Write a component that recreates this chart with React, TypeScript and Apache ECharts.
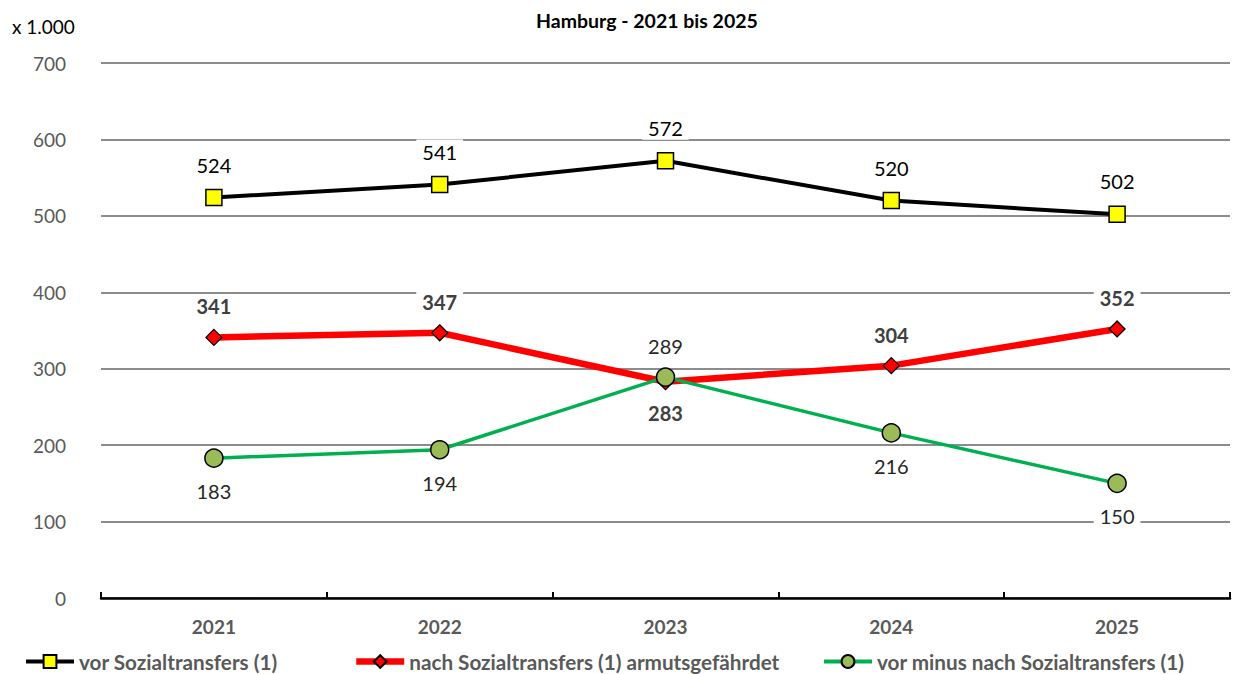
import React, { useEffect, useRef } from "react";
import * as echarts from "echarts";

const years = ["2021", "2022", "2023", "2024", "2025"];
const vorValues = [524, 541, 572, 520, 502];
const nachValues = [341, 347, 283, 304, 352];
const diffValues = [183, 194, 289, 216, 150];
const yTicks = { min: 0, max: 700, interval: 100 };

const seriesNames = [
  "vor Sozialtransfers (1)",
  "nach Sozialtransfers (1) armutsgefährdet",
  "vor minus nach Sozialtransfers (1)",
];

// label sides (true = below the point)
const nachBelow = [false, false, true, false, false];
const diffBelow = [true, true, false, true, true];

const FONT = "Lato, 'Noto Sans', sans-serif";

export default function App() {
  const ref = useRef<HTMLDivElement>(null);
  useEffect(() => {
    if (!ref.current) return;
    const chart = echarts.init(ref.current, undefined, { renderer: "svg" });
    const labelBase = {
      show: true,
      position: "inside",
      fontFamily: FONT,
      fontSize: 20,
      backgroundColor: "#ffffff",
      padding: [2, 6],
    };
    const legendBase = {
      top: 651,
      padding: 0,
      itemWidth: 48,
      itemHeight: 16,
      itemGap: 6,
      textStyle: { fontFamily: FONT, fontSize: 20.7, fontWeight: "bold", color: "#595959" },
    };
    chart.setOption({
      animation: false,
      backgroundColor: "#ffffff",
      textStyle: { fontFamily: FONT },
      title: {
        text: "Hamburg - 2021 bis 2025",
        left: 531,
        top: 5,
        textStyle: { fontFamily: FONT, fontSize: 19.5, fontWeight: "bold", color: "#000000" },
      },
      graphic: [
        {
          type: "text",
          left: 12,
          top: 17,
          style: { text: "x 1.000", fontFamily: FONT, fontSize: 19, fill: "#000000" },
        },
      ],
      legend: [
        { ...legendBase, left: 24, data: [seriesNames[0]], lineStyle: { width: 4 } },
        { ...legendBase, left: 353, data: [seriesNames[1]], lineStyle: { width: 6.5 } },
        { ...legendBase, left: 822, data: [seriesNames[2]], lineStyle: { width: 4 } },
      ],
      grid: { left: 101, right: 3, top: 63, bottom: 76 },
      xAxis: {
        type: "category",
        data: years,
        boundaryGap: true,
        axisLine: { lineStyle: { color: "#000000", width: 2.5 } },
        axisTick: { show: true, inside: true, length: 6, interval: 0, lineStyle: { color: "#000000", width: 2 } },
        axisLabel: { color: "#595959", fontSize: 19, fontWeight: "bold", fontFamily: FONT, margin: 19 },
        splitLine: { show: false },
      },
      yAxis: {
        type: "value",
        min: yTicks.min,
        max: yTicks.max,
        interval: yTicks.interval,
        axisLine: { show: false },
        axisTick: { show: false },
        axisLabel: { color: "#595959", fontSize: 19, fontFamily: FONT, margin: 35 },
        splitLine: { lineStyle: { color: "#8c8c8c", width: 2 } },
      },
      series: [
        {
          name: seriesNames[0],
          type: "line",
          data: vorValues.map((v) => ({ value: v, label: { offset: [0, -33] } })),
          symbol: "rect",
          symbolSize: 16,
          lineStyle: { color: "#000000", width: 4 },
          itemStyle: { color: "#ffff00", borderColor: "#000000", borderWidth: 1.5 },
          label: { ...labelBase, color: "#000000" },
          z: 3,
        },
        {
          name: seriesNames[1],
          type: "line",
          data: nachValues.map((v, i) => ({ value: v, label: { offset: [0, nachBelow[i] ? 31 : -31] } })),
          symbol: "diamond",
          symbolSize: 16,
          lineStyle: { color: "#ff0000", width: 6.5 },
          itemStyle: { color: "#ff0000", borderColor: "#000000", borderWidth: 1.2 },
          label: { ...labelBase, color: "#404040", fontWeight: "bold" },
          z: 2,
        },
        {
          name: seriesNames[2],
          type: "line",
          data: diffValues.map((v, i) => ({ value: v, label: { offset: [0, diffBelow[i] ? 33 : -31] } })),
          symbol: "circle",
          symbolSize: 18,
          lineStyle: { color: "#00b050", width: 3.5 },
          itemStyle: { color: "#9bbb59", borderColor: "#000000", borderWidth: 1.5 },
          label: { ...labelBase, color: "#262626" },
          z: 4,
        },
      ],
    });
    return () => chart.dispose();
  }, []);
  return (
    <div
      ref={ref}
      style={{ position: "fixed", left: 0, top: 0, width: 1233, height: 674, background: "#fff" }}
    />
  );
}
